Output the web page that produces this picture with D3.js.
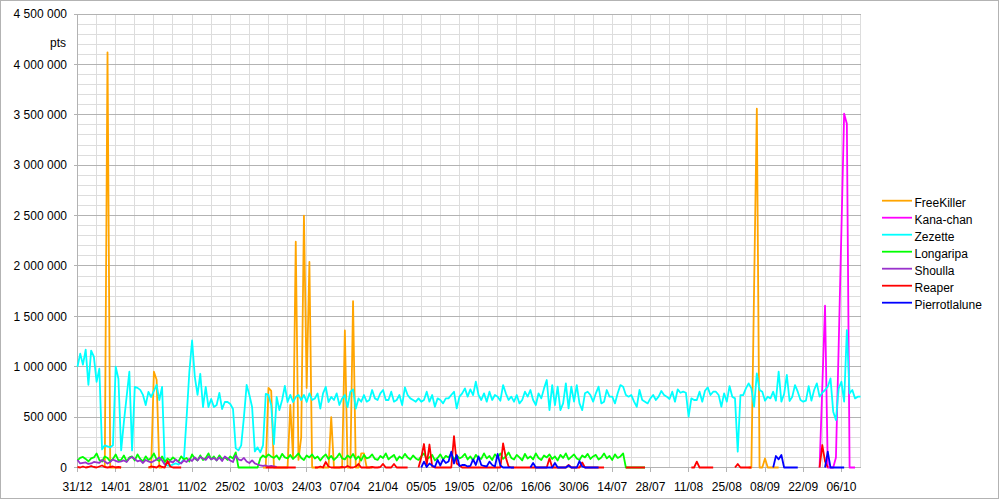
<!DOCTYPE html>
<html><head><meta charset="utf-8">
<script src="https://cdn.jsdelivr.net/npm/d3@7"></script>
<style>body{margin:0;background:#fff} svg{display:block;font-family:"Liberation Sans",Arial,sans-serif}</style>
</head><body><svg id="c" width="1000" height="500"></svg>
<script>
// ---- data (values in thousands of pts; day index 0 = 31/12) ----
const xTickLabels = ["31/12","14/01","28/01","11/02","25/02","10/03","24/03","07/04","21/04","05/05","19/05","02/06","16/06","30/06","14/07","28/07","11/08","25/08","08/09","22/09","06/10"];
const yTickValues = [0,500000,1000000,1500000,2000000,2500000,3000000,3500000,4000000,4500000];
const seriesNames = ["FreeKiller","Kana-chan","Zezette","Longaripa","Shoulla","Reaper","Pierrotlalune"];
const seriesColors = ["#ffa500","#ff00ff","#00ffff","#00ff00","#9932cc","#ff0000","#0000ff"];
const lastDay = 287;

const freeKiller = [
  [10, [0,4120,0,0,0,0,0]],
  [26, [0,0,950,870,0,0]],
  [68, [0,0,790,760,0,0,0,0,0,0, 620,100,2240,75,300,2500,790,2040,0,0, 0,0,0,0,0,500,0,0,0,0, 1360,0,0,1650,0,0,140,140,0,0, 0]],
  [246,[0,0,1780,3560,0,0,90,0,0,0,0,0]]
];
const kanaChan = [
  [272,[0,800,1605,0,0,0,100,1200,2350,3510,3410,0,0,0]]
];
const zezette = [
  1000,1130,1020,1170,820,1160,1100,850,980,180,
  220,210,200,220,1000,880,170,450,700,950,
  170,800,790,770,720,620,750,700,760,820,
  670,800,30,20,20,30,40,30,50,80,
  500,950,1260,900,720,930,600,800,600,680,
  600,620,740,580,650,650,630,580,190,170,
  220,500,820,720,600,160,200,150,220,730,
  720,620,230,700,570,670,810,650,720,650,
  700,720,670,720,650,735,670,685,735,585,
  735,800,650,700,670,735,620,685,720,600,
  750,775,585,685,653,719,653,670,769,686,
  670,736,769,670,670,752,653,670,719,620,
  795,719,686,670,653,686,653,670,752,653,
  719,603,686,670,636,686,686,719,752,587,
  703,736,785,703,775,719,851,719,670,736,
  653,752,670,719,703,663,818,736,670,703,
  653,719,636,670,752,703,769,670,620,736,
  686,785,868,570,818,620,802,570,636,835,
  587,802,653,818,636,570,736,752,719,653,
  736,802,636,653,769,703,703,636,736,818,
  802,719,703,719,653,603,769,670,653,636,
  686,719,670,703,759,719,703,680,752,653,
  775,742,752,742,504,686,670,670,752,653,
  762,795,719,752,752,719,603,736,653,808,
  703,686,157,719,719,785,835,785,603,934,
  769,752,663,703,686,752,663,951,653,729,
  918,660,703,818,752,670,653,663,808,663,
  769,835,703,742,769,802,884,554,471,785,
  851,653,1364,736,769,686,703,703
];
const longaripa = [
  70,95,105,85,60,90,100,140,75,60,
  110,95,60,85,130,70,75,120,60,100,
  110,70,130,85,60,110,75,95,140,80,
  65,110,55,90,70,100,75,60,110,80,
  95,60,130,90,70,120,75,95,140,80,
  110,70,120,85,100,75,110,90,150,0,
  0,0,0,0,0,0,0,90,120,100,
  130,110,95,120,80,135,100,90,125,85,
  110,140,95,75,120,100,130,90,110,70,
  105,130,85,115,75,100,140,90,80,120,
  95,135,80,110,70,125,90,100,130,85,
  75,115,95,140,80,105,125,70,110,90,
  135,100,80,120,90,75,110,140,85,100,
  125,70,95,130,80,115,100,140,75,120,
  90,105,135,80,110,70,125,95,85,140,
  90,115,75,130,100,140,85,110,150,95,
  80,125,100,70,135,90,110,80,140,95,
  75,120,100,130,85,110,70,125,95,140,
  80,105,130,90,75,120,100,135,85,110,
  125,80,100,140,90,115,75,130,95,110,
  140,0,0,0,0,0,0,0,0
];
const shoulla = [
  75,40,45,50,35,40,55,50,45,75,
  60,40,55,80,65,55,60,70,55,90,
  105,85,60,70,45,75,60,50,65,80,
  100,70,30,45,60,50,80,55,40,70,
  55,85,65,100,70,105,90,75,110,80,
  95,70,100,65,110,90,70,55,120,80,
  70,95,60,45,70,40,30,20,15,20,
  10,15,10,5
];
const reaper = [
  [0,  [5,0,10,0,5,15,5,0,10,20,5,0,5,10,0,5,0]],
  [26, [0,10,5,0,20,5,0,65,10,0,0,0,0]],
  [69, [0,0,0,0,0,0,0,0,0,0,0,0]],
  [87, [0,0,10,0,55,10,0,0,0,0,5,0,15,0,0,10,35,0,0,0,0,5,0,0,5,35,0,0,0,35,0,0,0,0,0]],
  [125,[0,100,233,25,228,10,0,0,0,0,0,0,0,312,40,20,0,0,0,0,0,0,0,0,0,0,0,0,0,0,0,240,100,10,0,0,0,0,0,0,0,0,0,0,0,0,0,0,91,0,0,0,0,0,0,25,0,0,0,0,50,0,0,0,0,0,0,0,0]],
  [201,[0,0,0,0,0,0,0,0]],
  [225,[0,0,58,0,0,0,0,0,0]],
  [241,[0,35,0,0,0,0,0]],
  [272,[0,223,60,0]]
];
const pierrotlalune = [
  [126,[0,58,5,40,20,5,75,20,80,45,60,157,40,124,15,25,25,10,15,80,25,110,25,15,10,58,25,10,134,20,0,0,0,0,0]],
  [166,[0,45,0,0,0,0,0,0,0,45,0,0,0,0,20,0,0,0,64,10,0,0,0,0,0,0]],
  [255,[0,114,81,124,0,0,0,0,0,0]],
  [274,[0,157,0,0,0,0,0,0]]
];

// ---- helpers ----
function fromSegments(segs){
  const pts=[];
  segs.forEach((s,i)=>{ if(i>0) pts.push(null); s[1].forEach((v,j)=>pts.push({d:s[0]+j, v:v*1000})); });
  return pts;
}
function fromDaily(arr, start){ return arr.map((v,j)=>({d:(start||0)+j, v:v*1000})); }

const seriesData = [
  fromSegments(freeKiller),
  fromSegments(kanaChan),
  fromDaily(zezette,0),
  fromDaily(longaripa,0),
  fromDaily(shoulla,0),
  fromSegments(reaper),
  fromSegments(pierrotlalune)
];

const svg = d3.select("#c");
const x = d3.scaleLinear().domain([0,lastDay]).range([77.5,860.5]);
const y = d3.scaleLinear().domain([0,4500000]).range([467.5,14]);
const fmt = d3.formatLocale({decimal:",",thousands:" ",grouping:[3],currency:["",""]}).format(",d");

// outer frame
svg.append("rect").attr("x",0.5).attr("y",0.5).attr("width",998).attr("height",498)
  .attr("fill","#fff").attr("stroke","#b3b3b3");

const grid = svg.append("g").attr("shape-rendering","crispEdges");
// minor horizontal
grid.selectAll("line.hmin").data(d3.range(0,4500001,100000).filter(v=>v%500000!==0)).join("line")
  .attr("x1",x(0)).attr("x2",x(lastDay)).attr("y1",d=>y(d)).attr("y2",d=>y(d)).attr("stroke","#dddddd");
// vertical
grid.selectAll("line.v").data(d3.range(0,lastDay+1,7)).join("line")
  .attr("x1",d=>x(d)).attr("x2",d=>x(d)).attr("y1",y(4500000)).attr("y2",y(0)).attr("stroke","#dddddd");
// major horizontal
grid.selectAll("line.hmaj").data(yTickValues).join("line")
  .attr("x1",x(0)-4).attr("x2",x(lastDay)).attr("y1",d=>y(d)).attr("y2",d=>y(d)).attr("stroke","#b3b3b3");
// left axis line
grid.append("line").attr("x1",x(0)).attr("x2",x(0)).attr("y1",y(4500000)).attr("y2",y(0)).attr("stroke","#b3b3b3");
// x ticks
grid.selectAll("line.xt").data(xTickLabels.map((l,i)=>i*14)).join("line")
  .attr("x1",d=>x(d)).attr("x2",d=>x(d)).attr("y1",y(0)).attr("y2",y(0)+4).attr("stroke","#b3b3b3");

// y labels
svg.append("g").selectAll("text").data(yTickValues).join("text")
  .attr("x",67).attr("y",d=>y(d)).attr("dy","0.35em").attr("text-anchor","end")
  .attr("font-size",12).attr("fill","#000").text(d=>fmt(d));
svg.append("text").attr("x",66).attr("y",47).attr("text-anchor","end").attr("font-size",12).text("pts");
// x labels
svg.append("g").selectAll("text").data(xTickLabels).join("text")
  .attr("x",(d,i)=>x(i*14)).attr("y",491).attr("text-anchor","middle")
  .attr("font-size",12).attr("fill","#000").text(d=>d);

// lines
const line = d3.line().defined(p=>p!==null).x(p=>x(p.d)).y(p=>y(p.v));
const lg = svg.append("g").attr("fill","none").attr("stroke-width",1.8).attr("stroke-linejoin","round");
seriesData.forEach((data,i)=>{
  lg.append("path").datum(data).attr("d",line).attr("stroke",seriesColors[i]);
});

// legend
const leg = svg.append("g");
seriesNames.forEach((n,i)=>{
  const ly = 200.7 + 17*i;
  leg.append("line").attr("x1",882).attr("x2",912).attr("y1",ly).attr("y2",ly)
    .attr("stroke",seriesColors[i]).attr("stroke-width",1.8);
  leg.append("text").attr("x",914.5).attr("y",ly+6.5).attr("font-size",12).attr("fill","#000").text(n);
});
</script></body></html>
